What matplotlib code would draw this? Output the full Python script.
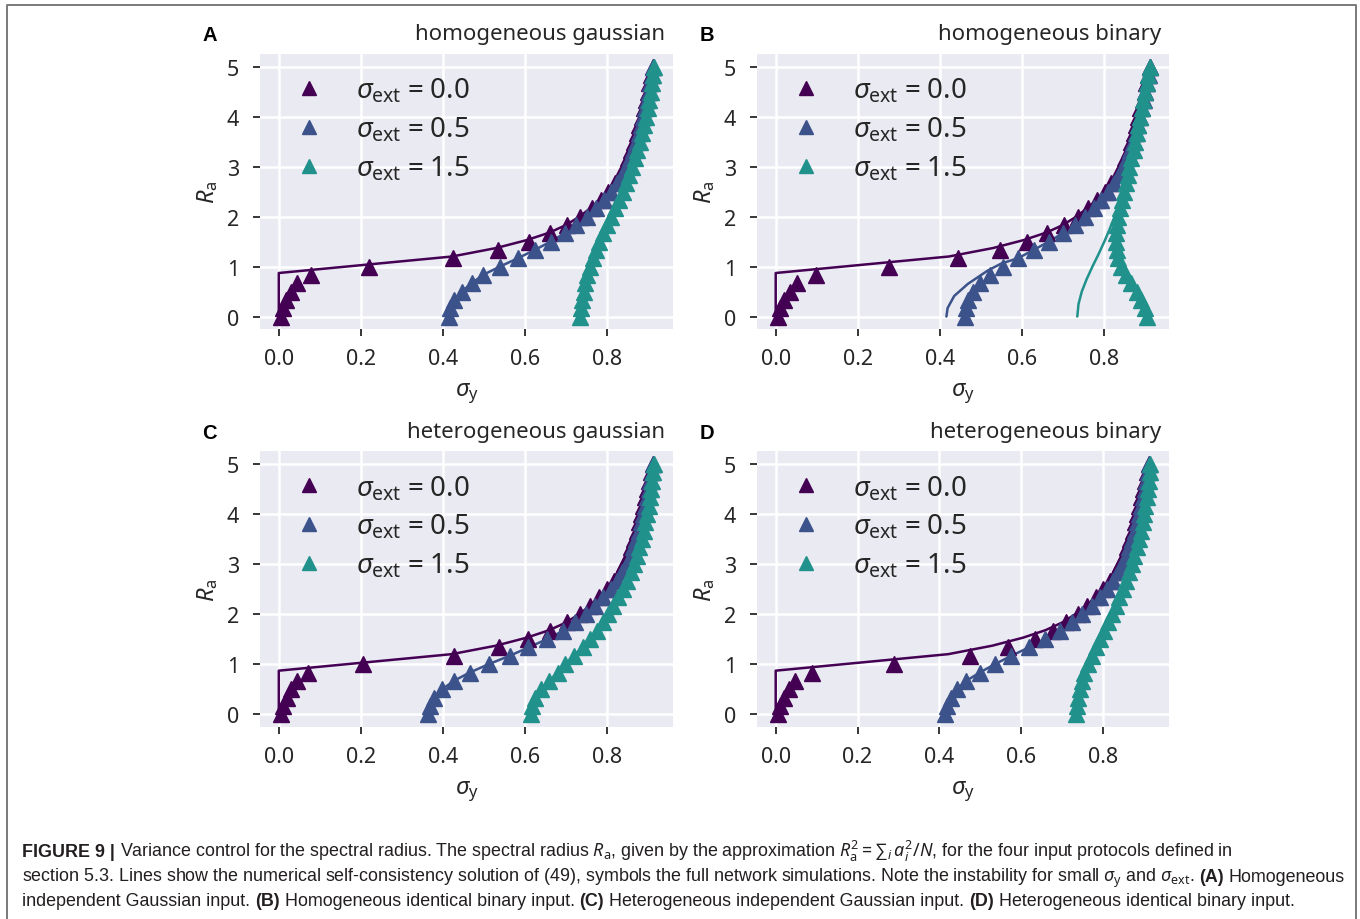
import matplotlib
matplotlib.use("Agg")
import matplotlib.pyplot as plt
import seaborn as sns

# spectral radius grid of the simulations
ra = [0.0, 0.167, 0.333, 0.5, 0.667, 0.833, 1.0, 1.167, 1.333, 1.5, 1.667,
      1.833, 2.0, 2.167, 2.333, 2.5, 2.667, 2.833, 3.0, 3.167, 3.333, 3.5,
      3.667, 3.833, 4.0, 4.167, 4.333, 4.5, 4.667, 4.833, 5.0]

ext_labels = [r"$\sigma_{\rm ext}\hspace{0.08}=\hspace{0.08}0.0$",
              r"$\sigma_{\rm ext}\hspace{0.08}=\hspace{0.08}0.5$",
              r"$\sigma_{\rm ext}\hspace{0.08}=\hspace{0.08}1.5$"]
colors = ["#440154", "#3b528b", "#21918c"]
titles = ["homogeneous gaussian", "homogeneous binary",
          "heterogeneous gaussian", "heterogeneous binary"]
letters = ["A", "B", "C", "D"]

# simulations (symbols), sigma_y per panel and sigma_ext
sim_A0 = [0.005, 0.01, 0.018, 0.03, 0.045, 0.078, 0.22, 0.425, 0.535, 0.61, 0.662,
          0.703, 0.735, 0.762, 0.784, 0.803, 0.819, 0.832, 0.843, 0.851, 0.859, 0.866,
          0.872, 0.878, 0.884, 0.889, 0.894, 0.899, 0.903, 0.908, 0.912]
sim_A1 = [0.414, 0.418, 0.426, 0.446, 0.47, 0.498, 0.539, 0.583, 0.624, 0.663, 0.697,
          0.725, 0.75, 0.772, 0.792, 0.809, 0.824, 0.837, 0.848, 0.857, 0.864, 0.871,
          0.877, 0.882, 0.887, 0.892, 0.897, 0.901, 0.905, 0.909, 0.913]
sim_A2 = [0.735, 0.737, 0.74, 0.743, 0.747, 0.752, 0.758, 0.765, 0.773, 0.781, 0.79,
          0.8, 0.81, 0.82, 0.829, 0.838, 0.846, 0.854, 0.861, 0.868, 0.874, 0.88,
          0.886, 0.891, 0.895, 0.899, 0.903, 0.906, 0.909, 0.912, 0.915]

sim_B0 = [0.005, 0.01, 0.02, 0.034, 0.052, 0.098, 0.277, 0.445, 0.546, 0.613, 0.662,
          0.703, 0.736, 0.762, 0.784, 0.802, 0.818, 0.832, 0.843, 0.852, 0.86, 0.867,
          0.873, 0.879, 0.884, 0.889, 0.894, 0.899, 0.903, 0.908, 0.912]
sim_B1 = [0.461, 0.463, 0.468, 0.482, 0.499, 0.522, 0.555, 0.591, 0.629, 0.666, 0.7,
          0.729, 0.753, 0.775, 0.794, 0.81, 0.824, 0.836, 0.847, 0.856, 0.864, 0.871,
          0.877, 0.883, 0.888, 0.893, 0.897, 0.901, 0.905, 0.909, 0.913]
sim_B2 = [0.905, 0.899, 0.891, 0.88, 0.866, 0.853, 0.842, 0.835, 0.831, 0.83, 0.83,
          0.832, 0.834, 0.838, 0.843, 0.848, 0.853, 0.858, 0.862, 0.867, 0.872, 0.876,
          0.88, 0.884, 0.888, 0.892, 0.896, 0.9, 0.904, 0.908, 0.912]

sim_C0 = [0.005, 0.01, 0.02, 0.03, 0.045, 0.072, 0.205, 0.428, 0.536, 0.607, 0.661,
          0.702, 0.734, 0.76, 0.782, 0.801, 0.818, 0.832, 0.843, 0.852, 0.86, 0.867,
          0.873, 0.879, 0.884, 0.889, 0.894, 0.899, 0.903, 0.908, 0.912]
sim_C1 = [0.365, 0.368, 0.379, 0.399, 0.427, 0.466, 0.512, 0.563, 0.609, 0.654, 0.694,
          0.723, 0.75, 0.772, 0.792, 0.81, 0.825, 0.838, 0.849, 0.858, 0.865, 0.872,
          0.878, 0.884, 0.889, 0.894, 0.898, 0.902, 0.906, 0.91, 0.913]
sim_C2 = [0.615, 0.617, 0.625, 0.64, 0.66, 0.68, 0.698, 0.719, 0.741, 0.758, 0.776,
          0.79, 0.803, 0.816, 0.828, 0.839, 0.849, 0.858, 0.866, 0.873, 0.879, 0.885,
          0.89, 0.894, 0.898, 0.902, 0.905, 0.908, 0.911, 0.913, 0.916]

sim_D0 = [0.005, 0.01, 0.02, 0.032, 0.048, 0.088, 0.29, 0.474, 0.568, 0.633, 0.677,
          0.71, 0.738, 0.762, 0.783, 0.801, 0.817, 0.831, 0.843, 0.852, 0.86, 0.867,
          0.873, 0.879, 0.884, 0.889, 0.894, 0.899, 0.903, 0.908, 0.912]
sim_D1 = [0.415, 0.418, 0.429, 0.443, 0.466, 0.499, 0.536, 0.576, 0.619, 0.659, 0.694,
          0.724, 0.75, 0.773, 0.792, 0.809, 0.824, 0.837, 0.848, 0.857, 0.865, 0.872,
          0.878, 0.884, 0.889, 0.894, 0.898, 0.902, 0.906, 0.91, 0.913]
sim_D2 = [0.735, 0.737, 0.739, 0.743, 0.748, 0.755, 0.763, 0.773, 0.783, 0.793, 0.803,
          0.813, 0.822, 0.831, 0.84, 0.849, 0.857, 0.864, 0.871, 0.877, 0.883, 0.888,
          0.893, 0.897, 0.901, 0.904, 0.907, 0.91, 0.912, 0.914, 0.916]

# self-consistency solution for sigma_ext = 0 (same in all panels)
theo0_ra = [0.0, 0.87, 1.2, 1.37, 1.53, 1.68, 1.83, 2.0, 2.17, 2.33, 2.5, 2.67, 2.83,
            3.0, 3.33, 3.67, 4.0, 4.33, 4.67, 5.0]
theo0_sy = [0.0, 0.0, 0.422, 0.53, 0.605, 0.66, 0.7, 0.733, 0.76, 0.782, 0.801, 0.817,
            0.831, 0.843, 0.859, 0.872, 0.884, 0.894, 0.903, 0.912]

# panel B: solutions deviating from the simulations at small R_a
theoB1_ra = [0.0, 0.17, 0.41, 0.65, 0.92, 1.06]
theoB1_sy = [0.416, 0.419, 0.435, 0.468, 0.517, 0.55]
theoB2_ra = [0.0, 0.25, 0.5, 0.75, 1.0, 1.25, 1.5, 1.75, 2.0, 2.2]
theoB2_sy = [0.735, 0.738, 0.746, 0.758, 0.772, 0.787, 0.801, 0.814, 0.826, 0.836]

sims = [[sim_A0, sim_A1, sim_A2], [sim_B0, sim_B1, sim_B2],
        [sim_C0, sim_C1, sim_C2], [sim_D0, sim_D1, sim_D2]]

sns.set_theme(style="darkgrid")
plt.rcParams["font.family"] = ["Noto Sans", "DejaVu Sans"]
plt.rcParams["mathtext.fontset"] = "custom"
plt.rcParams["mathtext.rm"] = "Noto Sans"
plt.rcParams["mathtext.it"] = "Noto Sans:italic"
plt.rcParams["mathtext.bf"] = "Noto Sans:bold"
plt.rcParams["text.color"] = "#262626"

fig = plt.figure(figsize=(13.6, 9.2), dpi=100)

positions = [[0.1912, 0.6413, 0.3037, 0.2989], [0.5566, 0.6413, 0.3030, 0.2989],
             [0.1912, 0.2090, 0.3037, 0.2992], [0.5566, 0.2090, 0.3030, 0.2992]]

for k in range(4):
    ax = fig.add_axes(positions[k])
    ax.set_facecolor("#eaeaf2")
    ax.grid(True, color="white", lw=1.8)
    for sp in ax.spines.values():
        sp.set_visible(False)

    # lines: numerical self-consistency solution
    ax.plot(theo0_sy, theo0_ra, color=colors[0], lw=1.8)
    if k == 1:
        ax.plot(theoB1_sy + sim_B1[7:], theoB1_ra + ra[7:], color=colors[1], lw=1.8)
        ax.plot(theoB2_sy + sim_B2[14:], theoB2_ra + ra[14:], color=colors[2], lw=1.8)
    else:
        ax.plot(sims[k][1], ra, color=colors[1], lw=1.8)
        ax.plot(sims[k][2], ra, color=colors[2], lw=1.8)

    # symbols: full network simulations
    for j in range(3):
        ax.plot(sims[k][j], ra, ls="none", marker="^", ms=11, color=colors[j],
                mec=colors[j], label=ext_labels[j])

    ax.set_xticks([0.0, 0.2, 0.4, 0.6, 0.8])
    ax.set_yticks([0, 1, 2, 3, 4, 5])
    ax.set_xticklabels(["0.0", "0.2", "0.4", "0.6", "0.8"])
    ax.tick_params(axis="both", labelsize=15.5, length=5, width=1.3, color="#262626",
                   labelcolor="#262626", direction="out", bottom=True, left=True)
    ax.tick_params(axis="x", pad=9)
    ax.tick_params(axis="y", pad=10)
    ax.set_xlabel(r"$\sigma_{\rm y}$", fontsize=17, labelpad=8)
    ax.set_ylabel(r"$R_{\rm a}$", fontsize=17, labelpad=5)

    ax.legend(loc="upper left", frameon=False, fontsize=20, handletextpad=0.75,
              labelspacing=0.37, borderaxespad=0.35, borderpad=0.45, handlelength=1.9,
              markerscale=0.95)
    ax.text(0.98, 1.035, titles[k], transform=ax.transAxes, ha="right", va="bottom",
            fontsize=16, color="#262626")
    ax.text(-0.14, 1.035, letters[k], transform=ax.transAxes, ha="left", va="bottom",
            fontsize=14.5, fontweight="bold", family="Liberation Sans", color="black")

# frame of the figure box
fig.add_artist(plt.Line2D([0.0051, 0.0051, 0.9971, 0.9971], [0.0, 0.9935, 0.9935, 0.0],
                          transform=fig.transFigure, color="#7a7a7a", lw=1.4))

# caption, written piece by piece so the bold parts can be mixed in
renderer = fig.canvas.get_renderer()
cap_size = 12.85
cap_color = "#231f20"
cap_family = ["Liberation Sans", "DejaVu Sans"]


def piece_width(txt, bold):
    t = fig.text(0, 0, txt, fontsize=cap_size, family=cap_family,
                 fontweight="bold" if bold else "normal")
    w = t.get_window_extent(renderer=renderer).width
    t.remove()
    return w


space_w = piece_width("x x", False) - piece_width("xx", False)

caption = [
    [("FIGURE 9 |", True),
     (r"Variance control for the spectral radius. The spectral radius $R_{\rm a}$, given by the approximation $R_{\rm a}^2 = $" + "\u2211" + r"$_i\, a_i^2/N$, for the four input protocols defined in", False)],
    [(r"section 5.3. Lines show the numerical self-consistency solution of (49), symbols the full network simulations. Note the instability for small $\sigma_{\rm y}$ and $\sigma_{\rm ext}$.", False),
     ("(A)", True), ("Homogeneous", False)],
    [("independent Gaussian input.", False), ("(B)", True),
     ("Homogeneous identical binary input.", False), ("(C)", True),
     ("Heterogeneous independent Gaussian input.", False), ("(D)", True),
     ("Heterogeneous identical binary input.", False)],
]
line_y = [1 - 857 / 920, 1 - 882 / 920, 1 - 906 / 920]

for row, yy in zip(caption, line_y):
    xpix = 22
    for txt, bold in row:
        t = fig.text(xpix / 1360, yy, txt, fontsize=cap_size, family=cap_family,
                     fontweight="bold" if bold else "normal", color=cap_color,
                     va="baseline", ha="left")
        xpix += t.get_window_extent(renderer=renderer).width + space_w

fig.savefig("out.png", dpi=100)
